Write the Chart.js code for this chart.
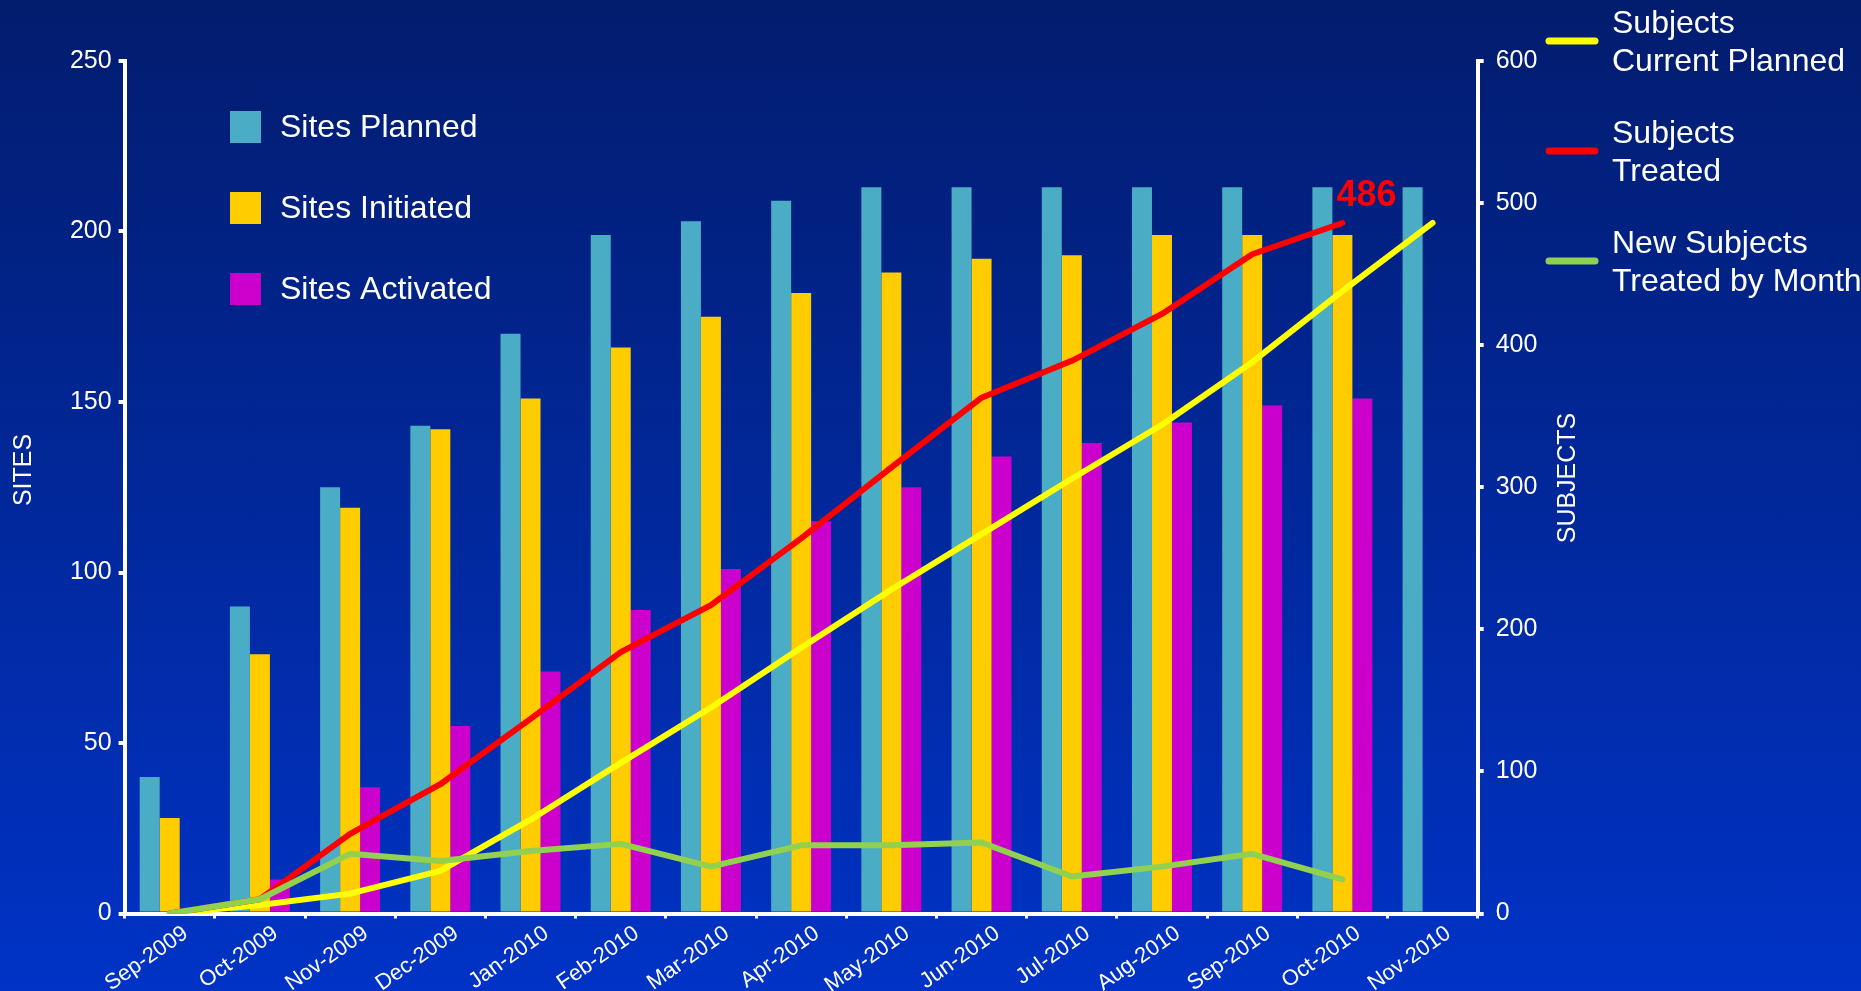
<!DOCTYPE html>
<html>
<head>
<meta charset="utf-8">
<title>Sites and Subjects</title>
<script src="https://cdn.jsdelivr.net/npm/chart.js@4.4.0/dist/chart.umd.min.js"></script>
<style>
  html, body { margin: 0; padding: 0; }
  #wrap { width: 1861px; height: 991px; background: linear-gradient(#021c6e, #0033c6); }
</style>
</head>
<body>
<div id="wrap"><canvas id="myChart"></canvas></div>
<script>
// data
const months = ['Sep-2009', 'Oct-2009', 'Nov-2009', 'Dec-2009', 'Jan-2010', 'Feb-2010', 'Mar-2010',
  'Apr-2010', 'May-2010', 'Jun-2010', 'Jul-2010', 'Aug-2010', 'Sep-2010', 'Oct-2010', 'Nov-2010'];
const sitesPlanned   = [40, 90, 125, 143, 170, 199, 203, 209, 213, 213, 213, 213, 213, 213, 213];
const sitesInitiated = [28, 76, 119, 142, 151, 166, 175, 182, 188, 192, 193, 199, 199, 199, null];
const sitesActivated = [null, 10, 37, 55, 71, 89, 101, 115, 125, 134, 138, 144, 149, 151, null];
const subjectsPlanned = [0, 6, 14, 30, 66, 106, 145, 187, 228, 267, 306, 344, 388, 438, 486];
const subjectsTreated = [0, 10, 56, 91, 137, 184, 217, 264, 314, 363, 389, 422, 464, 486, null];
const newSubjects     = [0, 10, 42, 37, 44, 49, 33, 48, 48, 50, 26, 33, 42, 24, null];
const sitesTicks = [0, 50, 100, 150, 200, 250];
const subjectTicks = [0, 100, 200, 300, 400, 500, 600];

const FONT = '"Liberation Sans", Arial, sans-serif';
Chart.defaults.font.family = FONT;
Chart.defaults.color = '#ffffff';

// axis titles, legends and the 486 label
const decor = {
  id: 'decor',
  afterDraw(chart) {
    const ctx = chart.ctx;
    ctx.save();
    ctx.fillStyle = '#fff';
    ctx.textBaseline = 'middle';

    // both axis titles read bottom to top
    ctx.font = '25px ' + FONT;
    ctx.textAlign = 'center';
    ctx.save(); ctx.translate(24, 470); ctx.rotate(-Math.PI / 2); ctx.fillText('SITES', 0, 0); ctx.restore();
    ctx.save(); ctx.translate(1568, 478); ctx.rotate(-Math.PI / 2); ctx.fillText('SUBJECTS', 0, 0); ctx.restore();

    // bar legend, inside the plot
    ctx.textAlign = 'left';
    ctx.font = '32px ' + FONT;
    const bars = chart.data.datasets.filter(d => d.type === 'bar');
    bars.forEach((d, i) => {
      const y = 127 + i * 81;
      ctx.fillStyle = d.backgroundColor;
      ctx.fillRect(230, y - 16, 31, 32);
      ctx.fillStyle = '#fff';
      ctx.fillText(d.label, 280, y + 1);
    });

    // line legend, right side
    const lines = chart.data.datasets.filter(d => d.type === 'line');
    lines.sort((a, b) => b.order - a.order);
    lines.forEach((d, i) => {
      const y = 41 + i * 110;
      ctx.strokeStyle = d.borderColor;
      ctx.lineWidth = 7;
      ctx.lineCap = 'round';
      ctx.beginPath(); ctx.moveTo(1549, y); ctx.lineTo(1595, y); ctx.stroke();
      ctx.fillStyle = '#fff';
      d.legendLines.forEach((t, j) => ctx.fillText(t, 1612, y - 17 + j * 38));
    });

    // end value of subjects treated
    const idx = chart.data.datasets.findIndex(d => d.label === 'Subjects Treated');
    const meta = chart.getDatasetMeta(idx);
    const last = subjectsTreated.length - 1 - [...subjectsTreated].reverse().findIndex(v => v !== null);
    const pt = meta.data[last];
    ctx.fillStyle = '#ff0000';
    ctx.font = 'bold 36px ' + FONT;
    ctx.textBaseline = 'alphabetic';
    ctx.fillText(String(subjectsTreated[last]), pt.x - 6, pt.y - 17);
    ctx.restore();
  }
};

const lineStyle = { borderWidth: 6, pointRadius: 0, borderCapStyle: 'round', borderJoinStyle: 'round', yAxisID: 'y2', tension: 0 };

new Chart(document.getElementById('myChart'), {
  type: 'bar',
  data: {
    labels: months,
    datasets: [
      Object.assign({ type: 'line', label: 'New Subjects Treated by Month', legendLines: ['New Subjects', 'Treated by Month'],
        data: newSubjects, borderColor: '#92d050', order: 0 }, lineStyle),
      Object.assign({ type: 'line', label: 'Subjects Treated', legendLines: ['Subjects', 'Treated'],
        data: subjectsTreated, borderColor: '#ff0000', order: 1 }, lineStyle),
      Object.assign({ type: 'line', label: 'Subjects Current Planned', legendLines: ['Subjects', 'Current Planned'],
        data: subjectsPlanned, borderColor: '#ffff00', order: 2 }, lineStyle),
      { type: 'bar', label: 'Sites Planned', data: sitesPlanned, backgroundColor: '#4bacc6', order: 3, yAxisID: 'y' },
      { type: 'bar', label: 'Sites Initiated', data: sitesInitiated, backgroundColor: '#ffcc00', order: 3, yAxisID: 'y' },
      { type: 'bar', label: 'Sites Activated', data: sitesActivated, backgroundColor: '#cc00cc', order: 3, yAxisID: 'y' }
    ]
  },
  options: {
    responsive: true,
    maintainAspectRatio: false,
    animation: false,
    categoryPercentage: 0.665,
    barPercentage: 1.0,
    layout: { padding: { top: 61, left: 0, right: 0, bottom: 0 } },
    plugins: { legend: { display: false }, tooltip: { enabled: false } },
    scales: {
      x: {
        offset: true,
        grid: { offset: true, drawOnChartArea: false, color: '#fff', lineWidth: 3, tickLength: 5 },
        border: { color: '#fff', width: 4 },
        ticks: { font: { size: 22 }, color: '#fff', minRotation: 35, maxRotation: 35, autoSkip: false, labelOffset: 16, padding: 2 },
        afterFit(s) { s.height = 77.5; }
      },
      y: {
        position: 'left',
        min: 0, max: 250,
        afterBuildTicks(s) { s.ticks = sitesTicks.map(v => ({ value: v })); },
        grid: { drawOnChartArea: false, color: '#fff', lineWidth: 4, tickLength: 6 },
        border: { color: '#fff', width: 4 },
        ticks: { font: { size: 25 }, color: '#fff', padding: 7 },
        afterFit(s) { s.width = 124.6; }
      },
      y2: {
        position: 'right',
        min: 0, max: 600,
        afterBuildTicks(s) { s.ticks = subjectTicks.map(v => ({ value: v })); },
        grid: { drawOnChartArea: false, color: '#fff', lineWidth: 4, tickLength: 6 },
        border: { color: '#fff', width: 4 },
        ticks: { font: { size: 25 }, color: '#fff', padding: 12 },
        afterFit(s) { s.width = 1861 - 1477.7; }
      }
    }
  },
  plugins: [decor]
});
</script>
</body>
</html>
